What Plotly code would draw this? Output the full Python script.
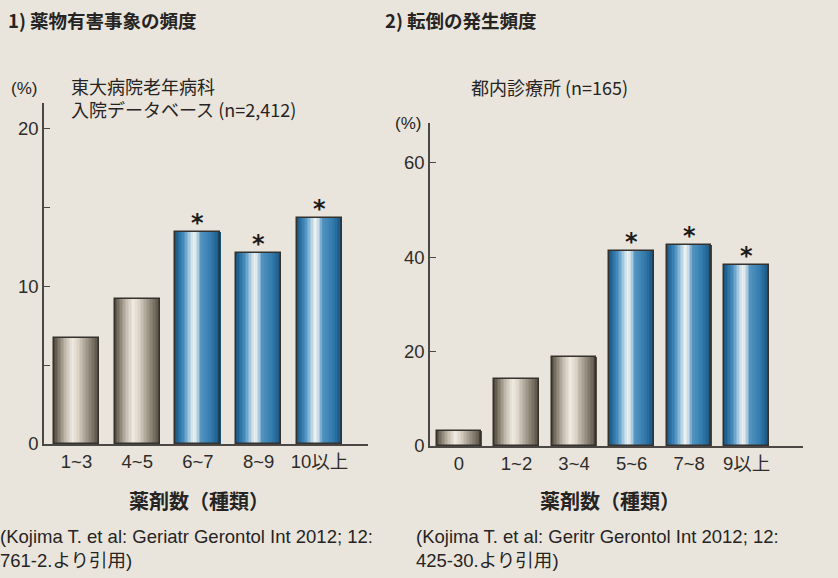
import plotly.graph_objects as go

# ---------------- data ----------------
cats_ade = ["1~3", "4~5", "6~7", "8~9", "10以上"]
vals_ade = [6.7, 9.2, 13.4, 12.1, 14.3]
sig_ade = [False, False, True, True, True]

cats_fall = ["0", "1~2", "3~4", "5~6", "7~8", "9以上"]
vals_fall = [3.2, 14.2, 18.8, 41.3, 42.5, 38.4]
sig_fall = [False, False, False, True, True, True]

yticks_ade = [0, 5, 10, 15, 20]
yticklabels_ade = ["0", "", "10", "", "20"]
yticks_fall = [0, 20, 40, 60]
yticklabels_fall = ["0", "20", "40", "60"]

title_ade = "<b>1) 薬物有害事象の頻度</b>"
title_fall = "<b>2) 転倒の発生頻度</b>"
sub_ade = "東大病院老年病科<br>入院データベース (n=2,412)"
sub_fall = "都内診療所 (n=165)"
xtitle = "<b>薬剤数（種類）</b>"
cite_ade = "(Kojima T. et al: Geriatr Gerontol Int 2012; 12:<br>761-2.より引用)"
cite_fall = "(Kojima T. et al: Geritr Gerontol Int 2012; 12:<br>425-30.より引用)"

# ---------------- style ----------------
BG = "#e9e5dd"
AX = "#4a4744"
FONT = "Liberation Sans, Arial, Noto Sans CJK JP"
JFONT = "Noto Sans CJK JP, Liberation Sans"
W, H = 838, 578

GRAY_PROFILE = [(0.0, (72, 64, 54)), (0.08, (116, 108, 94)), (0.25, (190, 183, 169)),
                (0.42, (240, 235, 225)), (0.55, (218, 211, 198)), (0.75, (158, 150, 136)),
                (0.92, (110, 102, 89)), (1.0, (80, 72, 60))]
BLUE_PROFILE = [(0.0, (22, 76, 118)), (0.08, (40, 108, 158)), (0.2, (72, 142, 190)),
                (0.33, (172, 206, 226)), (0.42, (240, 241, 238)), (0.5, (192, 216, 230)),
                (0.58, (84, 148, 192)), (0.8, (50, 124, 174)), (0.93, (34, 98, 146)),
                (1.0, (22, 76, 118))]


def interp(stops, t):
    for (t0, c0), (t1, c1) in zip(stops[:-1], stops[1:]):
        if t <= t1:
            f = (t - t0) / (t1 - t0) if t1 > t0 else 0
            c = [round(a + (b - a) * f) for a, b in zip(c0, c1)]
            return "rgb(%d,%d,%d)" % tuple(c)
    return "rgb(%d,%d,%d)" % stops[-1][1]


def gradient_bars(fig, cats, vals, sig, bw, xa, ya, n=30):
    step = bw / n
    for j in range(n):
        t = (j + 0.5) / n
        colors = [interp(BLUE_PROFILE if s else GRAY_PROFILE, t) for s in sig]
        fig.add_trace(go.Bar(
            x=cats, y=vals, width=step * 1.15, offset=-bw / 2 + j * step,
            marker=dict(color=colors, line=dict(width=0)),
            xaxis=xa, yaxis=ya, showlegend=False, hoverinfo="skip"))
    fig.add_trace(go.Bar(
        x=cats, y=vals, width=bw, offset=-bw / 2,
        marker=dict(color="rgba(0,0,0,0)", line=dict(color="#35322e", width=1.5)),
        xaxis=xa, yaxis=ya, showlegend=False, hoverinfo="skip"))
    for c, v, s in zip(cats, vals, sig):
        if s:
            fig.add_annotation(x=c, y=v, xref=xa, yref=ya, text="<b>*</b>", showarrow=False,
                               yanchor="middle", yshift=9,
                               font=dict(size=24, color="#1e1c1a", family="DejaVu Sans"))


fig = go.Figure()
gradient_bars(fig, cats_ade, vals_ade, sig_ade, 0.74, "x", "y")
gradient_bars(fig, cats_fall, vals_fall, sig_fall, 0.775, "x2", "y2")


def px_x(x):
    return x / W


def px_y(y):
    return 1 - y / H


axis_common = dict(showline=True, linecolor=AX, linewidth=1.5, showgrid=False, zeroline=False,
                   automargin=False)
xtick_font = dict(size=18.5, color="#2e2c2a", family=FONT)
ytick_font = dict(size=18.5, color="#2e2c2a", family=FONT)

fig.update_layout(
    width=W, height=H, margin=dict(l=0, r=0, t=0, b=0, autoexpand=False),
    paper_bgcolor=BG, plot_bgcolor=BG, barmode="overlay", bargap=0,
    xaxis=dict(domain=[px_x(44), px_x(368)], range=[-0.535, 4.8], type="category",
               anchor="y", ticks="", tickfont=xtick_font, **axis_common),
    yaxis=dict(domain=[px_y(444), px_y(103)], range=[0, 21.6], anchor="x",
               tickvals=yticks_ade, ticktext=yticklabels_ade, tickfont=ytick_font,
               ticks="inside", ticklen=6, tickcolor=AX, tickwidth=1.2, **axis_common),
    xaxis2=dict(domain=[px_x(430), px_x(803)], range=[-0.504, 5.98], type="category",
                anchor="y2", ticks="", tickfont=xtick_font, **axis_common),
    yaxis2=dict(domain=[px_y(446), px_y(123)], range=[0, 68.4], anchor="x2",
                tickvals=yticks_fall, ticktext=yticklabels_fall, tickfont=ytick_font,
                ticks="inside", ticklen=6, tickcolor=AX, tickwidth=1.2, **axis_common),
)


def note(text, x, y, size, family=JFONT, xanchor="left", color="#262422"):
    fig.add_annotation(text=text, x=px_x(x), y=px_y(y), xref="paper", yref="paper",
                       xanchor=xanchor, yanchor="middle", align="left", showarrow=False,
                       font=dict(size=size, family=family, color=color))


note(title_ade, 6, 20, 18.5)
note(title_fall, 383, 20, 18.5)
note("(%)", 9, 88, 17, family=FONT)
note(sub_ade, 69, 97, 18)
note(sub_fall, 469, 87, 18)
note("(%)", 393, 124, 17, family=FONT)
note(xtitle, 199, 500, 20, xanchor="center")
note(xtitle, 610, 500, 20, xanchor="center")
cfont = "Liberation Sans, Noto Sans CJK JP"
note(cite_ade, -2, 548, 18.5, family=cfont)
note(cite_fall, 414, 548, 18.5, family=cfont)

fig.write_html("out.html", config={"displayModeBar": False},
               post_script="document.body.style.margin='0';document.body.style.overflow='hidden';")
